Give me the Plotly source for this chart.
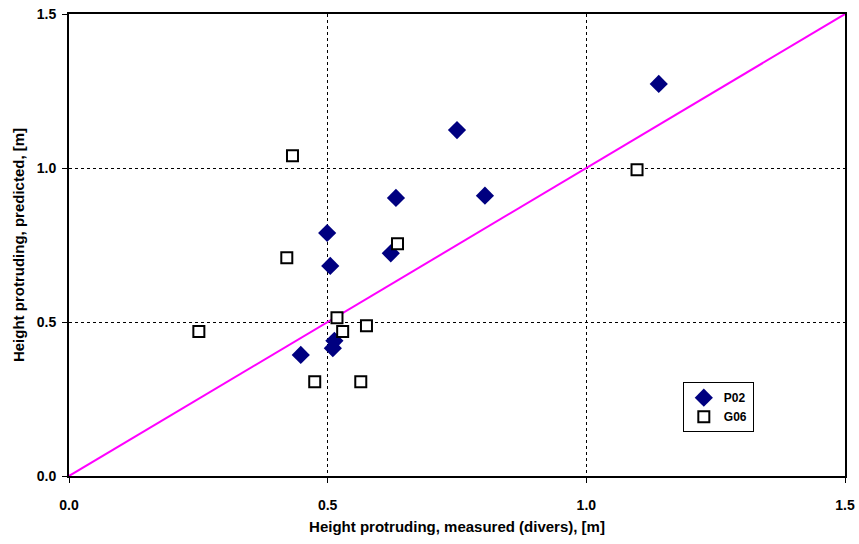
import plotly.graph_objects as go

# P02 series: measured vs predicted protruding height [m]
p02_measured = [0.750, 1.140, 0.632, 0.804, 0.499, 0.622, 0.505, 0.513, 0.510, 0.448]
p02_predicted = [1.123, 1.273, 0.903, 0.910, 0.789, 0.723, 0.682, 0.439, 0.415, 0.393]

# G06 series
g06_measured = [0.432, 1.098, 0.635, 0.421, 0.251, 0.518, 0.529, 0.575, 0.475, 0.564]
g06_predicted = [1.040, 0.994, 0.754, 0.709, 0.469, 0.514, 0.469, 0.488, 0.306, 0.306]

# 1:1 reference line
ref_line = [0.0, 1.5]

tick_vals = [0.0, 0.5, 1.0, 1.5]
tick_text = ["<b>0.0</b>", "<b>0.5</b>", "<b>1.0</b>", "<b>1.5</b>"]

FONT = "Liberation Sans, Arial, sans-serif"

fig = go.Figure()

fig.add_trace(go.Scatter(
    x=ref_line, y=ref_line, mode="lines",
    line=dict(color="#FF00FF", width=2),
    showlegend=False, hoverinfo="skip",
))

fig.add_trace(go.Scatter(
    x=p02_measured, y=p02_predicted, mode="markers", name="<b>P02</b>",
    marker=dict(symbol="diamond", size=14, color="#000080",
                line=dict(color="#000080", width=0)),
))

fig.add_trace(go.Scatter(
    x=g06_measured, y=g06_predicted, mode="markers", name="<b>G06</b>",
    marker=dict(symbol="square", size=11, color="white",
                line=dict(color="black", width=2)),
))

axis_common = dict(
    range=[0, 1.5], tickvals=tick_vals, ticktext=tick_text,
    showline=True, linecolor="black", linewidth=2, mirror=True,
    ticks="outside", ticklen=5, tickwidth=1, tickcolor="black",
    showgrid=True, gridcolor="black", gridwidth=1, griddash="dot",
    zeroline=False, automargin=False,
    tickfont=dict(family=FONT, size=14, color="black"),
)

fig.update_xaxes(
    **axis_common,
    ticklabelstandoff=10,
    title=dict(text="<b>Height protruding, measured (divers), [m]</b>",
               font=dict(family=FONT, size=15, color="black"),
               standoff=10),
)
fig.update_yaxes(
    **axis_common,
    ticklabelstandoff=3,
    title=dict(text="<b>Height protruding, predicted, [m]</b>",
               font=dict(family=FONT, size=15, color="black"),
               standoff=8),
)

fig.update_layout(
    width=859, height=544,
    margin=dict(l=69, r=14, t=14, b=68),
    plot_bgcolor="white", paper_bgcolor="white",
    legend=dict(
        x=0.791, y=0.203, xanchor="left", yanchor="top",
        bgcolor="white", bordercolor="black", borderwidth=1,
        font=dict(family=FONT, size=12, color="black"),
        tracegroupgap=0, itemwidth=30,
    ),
)

fig.write_html("out.html")
